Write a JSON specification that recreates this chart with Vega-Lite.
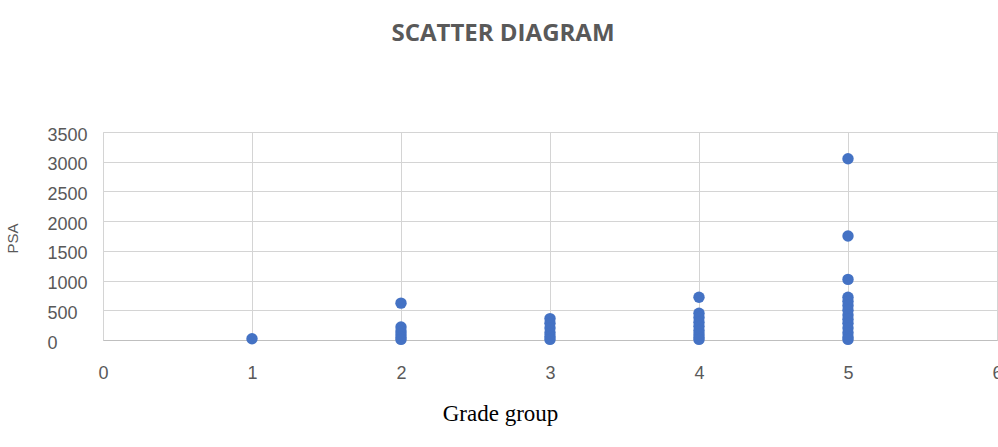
{
  "$schema": "https://vega.github.io/schema/vega-lite/v6.json",
  "autosize": "none",
  "width": 894,
  "height": 208,
  "padding": {"left": 103, "top": 132, "right": 1, "bottom": 107},
  "background": "white",
  "title": {
    "text": "SCATTER DIAGRAM",
    "font": "Open Sans",
    "fontSize": 24,
    "fontWeight": "bold",
    "color": "#595959",
    "anchor": "middle",
    "dx": -47,
    "offset": 80
  },
  "config": {
    "view": {"stroke": "#d9d9d9"},
    "axis": {
      "gridColor": "#d4d4d4",
      "domainColor": "#bfbfbf",
      "ticks": false,
      "labelColor": "#595959",
      "labelFont": "Liberation Sans",
      "labelFontSize": 18
    }
  },
  "data": {
    "values": [
      {"grade": 1, "psa": 20},
      {"grade": 2, "psa": 620},
      {"grade": 2, "psa": 220},
      {"grade": 2, "psa": 150},
      {"grade": 2, "psa": 100},
      {"grade": 2, "psa": 50},
      {"grade": 2, "psa": 10},
      {"grade": 3, "psa": 360},
      {"grade": 3, "psa": 280},
      {"grade": 3, "psa": 200},
      {"grade": 3, "psa": 120},
      {"grade": 3, "psa": 60},
      {"grade": 3, "psa": 10},
      {"grade": 4, "psa": 720},
      {"grade": 4, "psa": 450},
      {"grade": 4, "psa": 380},
      {"grade": 4, "psa": 300},
      {"grade": 4, "psa": 230},
      {"grade": 4, "psa": 160},
      {"grade": 4, "psa": 100},
      {"grade": 4, "psa": 50},
      {"grade": 4, "psa": 10},
      {"grade": 5, "psa": 3050},
      {"grade": 5, "psa": 1750},
      {"grade": 5, "psa": 1020},
      {"grade": 5, "psa": 720},
      {"grade": 5, "psa": 650},
      {"grade": 5, "psa": 580},
      {"grade": 5, "psa": 500},
      {"grade": 5, "psa": 420},
      {"grade": 5, "psa": 350},
      {"grade": 5, "psa": 280},
      {"grade": 5, "psa": 200},
      {"grade": 5, "psa": 120},
      {"grade": 5, "psa": 50},
      {"grade": 5, "psa": 10}
    ]
  },
  "mark": {"type": "circle", "size": 130, "color": "#4472C4", "opacity": 1},
  "encoding": {
    "x": {
      "field": "grade",
      "type": "quantitative",
      "scale": {"domain": [0, 6], "nice": false},
      "axis": {
        "values": [0, 1, 2, 3, 4, 5, 6],
        "format": "d",
        "labelPadding": 24,
        "labelFlush": false,
        "grid": true,
        "title": "Grade group",
        "titleFont": "Liberation Serif",
        "titleFontSize": 23,
        "titleFontWeight": "normal",
        "titleColor": "#000000",
        "titleX": 397,
        "titleY": 62
      }
    },
    "y": {
      "field": "psa",
      "type": "quantitative",
      "scale": {"domain": [0, 3500], "nice": false},
      "axis": {
        "values": [0, 500, 1000, 1500, 2000, 2500, 3000, 3500],
        "format": "d",
        "labelAlign": "left",
        "labelPadding": 56,
        "labelOffset": 3,
        "labelFlush": false,
        "grid": true,
        "domain": false,
        "title": "PSA",
        "titleFont": "Liberation Sans",
        "titleFontSize": 15,
        "titleFontWeight": "normal",
        "titleColor": "#595959",
        "titleX": -83,
        "titleY": 106
      }
    }
  }
}
